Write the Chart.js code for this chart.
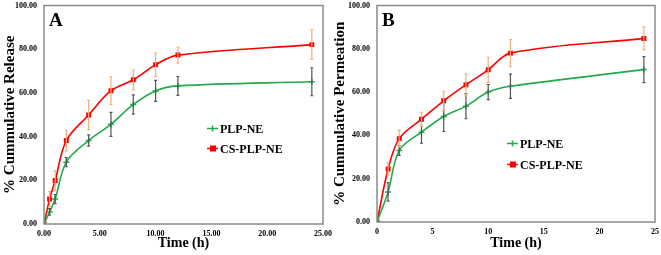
<!DOCTYPE html>
<html>
<head>
<meta charset="utf-8">
<script src="https://cdn.jsdelivr.net/npm/chart.js@4.4.1/dist/chart.umd.min.js"></script>
<style>
  body { margin: 0; background: #fff; }
  .panel { position: absolute; top: 0; height: 255px; }
</style>
</head>
<body>
<div class="panel" style="left:0;width:338px"><canvas id="graficoA"></canvas></div>
<div class="panel" style="left:330px;width:331px"><canvas id="graficoB"></canvas></div>
<script>
// datos panel A (liberacion)
const tiempoA = [0, 0.5, 1, 2, 4, 6, 8, 10, 12, 24];
const plpA = [0, 5.5, 11.4, 28.3, 38.2, 45.6, 54.7, 60.9, 63.2, 65.1];
const plpAErr = [0, 1.5, 2.1, 2.1, 2.6, 5.5, 4.4, 4.8, 4.3, 6.4];
const csA = [0, 11.4, 19.9, 38.2, 49.9, 61.0, 66.0, 72.9, 77.3, 82.1];
const csAErr = [0, 3.5, 4.4, 4.7, 6.7, 6.4, 4.6, 5.3, 3.6, 6.8];

// datos panel B (permeacion)
const tiempoB = [0, 1, 2, 4, 6, 8, 10, 12, 24];
const plpB = [0, 13.9, 33.0, 41.5, 48.7, 53.5, 60.0, 62.7, 70.4];
const plpBErr = [0, 4.3, 2.2, 5.1, 6.9, 5.8, 3.5, 5.6, 6.0];
const csB = [0, 24.5, 38.5, 47.5, 56.0, 63.4, 70.3, 78.0, 84.8];
const csBErr = [0, 2.9, 3.8, 3.2, 4.4, 5.0, 5.8, 6.3, 5.2];

const serie1 = "PLP-NE";
const serie2 = "CS-PLP-NE";
const ticksY = [0, 20, 40, 60, 80, 100];
const ticksX = [0, 5, 10, 15, 20, 25];

const fuente = "'Liberation Serif', 'Times New Roman', serif";
const verde = "rgb(34, 170, 76)";
const rojo = "rgb(255, 0, 0)";

function puntos(xs, ys) {
  return xs.map((x, i) => ({ x: x, y: ys[i] }));
}

// barras de error + caja + letra + leyenda
const extras = {
  id: "extras",
  afterDatasetsDraw(chart, args, opts) {
    const ctx = chart.ctx;
    const sx = chart.scales.x, sy = chart.scales.y;
    const a = chart.chartArea;
    ctx.save();
    opts.errores.forEach((e) => {
      ctx.strokeStyle = e.color;
      ctx.lineWidth = 1.2;
      e.xs.forEach((x, i) => {
        if (!e.err[i]) return;
        const px = sx.getPixelForValue(x);
        const y1 = sy.getPixelForValue(e.ys[i] - e.err[i]);
        const y2 = sy.getPixelForValue(e.ys[i] + e.err[i]);
        ctx.beginPath();
        ctx.moveTo(px, y1); ctx.lineTo(px, y2);
        ctx.moveTo(px - 1.5, y1); ctx.lineTo(px + 1.5, y1);
        ctx.moveTo(px - 1.5, y2); ctx.lineTo(px + 1.5, y2);
        ctx.stroke();
      });
    });
    // caja
    ctx.strokeStyle = "#8a8a8a";
    ctx.lineWidth = 1.5;
    ctx.strokeRect(a.left, a.top, a.right - a.left, a.bottom - a.top);
    // letra
    ctx.fillStyle = "#000";
    ctx.font = "bold 19px " + fuente;
    ctx.textBaseline = "top";
    ctx.fillText(opts.letra, a.left + 5, a.top + 6);
    // leyenda
    ctx.font = "bold 12px " + fuente;
    ctx.textBaseline = "middle";
    opts.leyenda.forEach((l, i) => {
      const lx = a.left + opts.lx;
      const ly = a.top + opts.ly + i * opts.lsep;
      ctx.strokeStyle = l.color;
      ctx.lineWidth = 1.5;
      ctx.beginPath(); ctx.moveTo(lx, ly); ctx.lineTo(lx + 11, ly); ctx.stroke();
      ctx.fillStyle = l.color;
      if (l.tipo === "rect") {
        ctx.fillRect(lx + 3, ly - 3, 6, 6);
      } else {
        ctx.beginPath();
        ctx.moveTo(lx + 5.5, ly - 3); ctx.lineTo(lx + 5.5, ly + 3);
        ctx.stroke();
      }
      ctx.fillStyle = "#000";
      ctx.fillText(l.texto, lx + 13, ly + 1);
    });
    ctx.restore();
  }
};

function crearGrafico(id, t, plp, plpErr, cs, csErr, conf) {
  const config = {
    type: "line",
    data: {
      datasets: [{
        label: serie1,
        data: puntos(t, plp),
        borderColor: verde,
        backgroundColor: verde,
        borderWidth: 1.6,
        pointStyle: "cross",
        pointRadius: 3,
        pointBorderWidth: 1.5,
        tension: 0.35
      }, {
        label: serie2,
        data: puntos(t, cs),
        borderColor: rojo,
        backgroundColor: rojo,
        borderWidth: 1.6,
        pointStyle: "rect",
        pointRadius: 3.5,
        pointBorderWidth: 0,
        tension: 0.35
      }]
    },
    options: {
      responsive: true,
      maintainAspectRatio: false,
      animation: false,
      layout: { padding: { top: conf.top, right: conf.right, left: 0, bottom: 0 } },
      plugins: {
        legend: { display: false },
        tooltip: { enabled: false },
        extras: {
          letra: conf.letra,
          lx: conf.lx, ly: conf.ly, lsep: conf.lsep,
          errores: [
            { xs: t, ys: plp, err: plpErr, color: "#555555" },
            { xs: t, ys: cs, err: csErr, color: "#f0b07a" }
          ],
          leyenda: [
            { texto: serie1, color: verde, tipo: "cross" },
            { texto: serie2, color: rojo, tipo: "rect" }
          ]
        }
      },
      scales: {
        x: {
          type: "linear",
          min: 0, max: 25,
          afterBuildTicks: (s) => { s.ticks = ticksX.map(v => ({ value: v })); },
          afterFit: (s) => { s.height = conf.alturaX; s.paddingLeft = 0; s.paddingRight = 0; },
          grid: { display: false, drawTicks: false },
          border: { display: false },
          ticks: {
            padding: 5,
            maxRotation: 0,
            color: "#000",
            font: { family: fuente, size: 8, weight: "bold" },
            callback: conf.formatoX
          },
          title: {
            display: true,
            text: "Time (h)",
            color: "#000",
            font: { family: fuente, size: 14, weight: "bold" },
            padding: { top: 0, bottom: 3 }
          }
        },
        y: {
          min: 0, max: 100,
          afterBuildTicks: (s) => { s.ticks = ticksY.map(v => ({ value: v })); },
          afterFit: (s) => { s.width = conf.anchoY; s.paddingTop = 0; s.paddingBottom = 0; },
          grid: { display: false, drawTicks: false },
          border: { display: false },
          ticks: {
            padding: 7,
            color: "#000",
            font: { family: fuente, size: 8, weight: "bold" },
            callback: (v) => v.toFixed(2)
          },
          title: {
            display: true,
            text: conf.tituloY,
            color: "#000",
            font: { family: fuente, size: 15, weight: "bold" },
            padding: { top: 1, bottom: 0 }
          }
        }
      }
    },
    plugins: [extras]
  };
  return new Chart(document.getElementById(id).getContext("2d"), config);
}

window.chart1 = crearGrafico("graficoA", tiempoA, plpA, plpAErr, csA, csAErr, {
  letra: "A", tituloY: "% Cummulative Release",
  top: 5, right: 15, anchoY: 44, alturaX: 31,
  lx: 163, ly: 123, lsep: 20,
  formatoX: (v) => v.toFixed(2)
});

window.chart2 = crearGrafico("graficoB", tiempoB, plpB, plpBErr, csB, csBErr, {
  letra: "B", tituloY: "% Cummulative Permeation",
  top: 5, right: 6, anchoY: 47, alturaX: 33,
  lx: 130, ly: 138, lsep: 21,
  formatoX: (v) => String(v)
});
</script>
</body>
</html>
